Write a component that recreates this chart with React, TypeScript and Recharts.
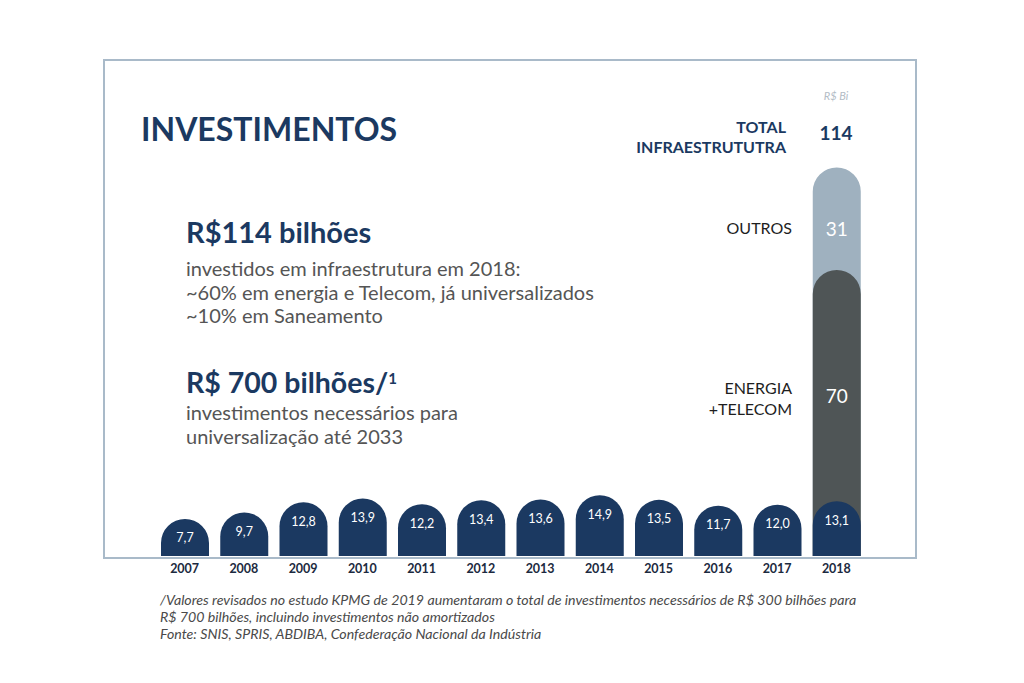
import React from "react";
import { BarChart, Bar, XAxis, YAxis, LabelList } from "recharts";

const years = ["2007", "2008", "2009", "2010", "2011", "2012", "2013", "2014", "2015", "2016", "2017", "2018"];
const saneamento = [7.7, 9.7, 12.8, 13.9, 12.2, 13.4, 13.6, 14.9, 13.5, 11.7, 12.0, 13.1];
const energiaTelecom = [null, null, null, null, null, null, null, null, null, null, null, 70];
const outros = [null, null, null, null, null, null, null, null, null, null, null, 31];
const totalInfra = 114;

const NAVY = "#1b3961";
const GRAY = "#4f5556";
const LIGHT = "#9fb1bf";
const BORDER = "#a9bac9";
const TEXT_GRAY = "#555555";
const PLOT_BOTTOM = 556;
const FONT = "Lato, 'Open Sans', sans-serif";

const data = years.map((year, i) => ({
  year,
  san: saneamento[i],
  ene: energiaTelecom[i],
  out: outros[i],
}));

const cumEnergia = (d: any) => (d.ene == null ? null : d.san + d.ene);
const cumTotal = (d: any) => (d.out == null ? null : d.san + d.ene + d.out);

const fmt = (v: number) => v.toFixed(1).replace(".", ",");

// rounded-top bar running down to the frame line
const RoundTop = (props: any) => {
  const { x, y, width, fill } = props;
  if (width == null || y == null) return null;
  const r = width / 2;
  const b = PLOT_BOTTOM;
  const d = `M${x},${b} L${x},${y + r} A${r},${r} 0 0 1 ${x + width},${y + r} L${x + width},${b} Z`;
  return <path d={d} fill={fill} />;
};

const sanLabel = (props: any) => {
  const { x, y, width, value } = props;
  if (value == null) return null;
  return (
    <text x={x + width / 2} y={y + 19} fill="#ffffff" fontSize={12.5} fontFamily={FONT} textAnchor="middle" dominantBaseline="central">
      {fmt(value)}
    </text>
  );
};

const segLabel = (key: string, cumFn: (d: any) => number | null) => (props: any) => {
  const { x, y, width, height, value } = props;
  if (value == null || height == null) return null;
  const row = data.find((d: any) => d[key] === value);
  const cum = row ? cumFn(row) : null;
  if (!cum) return null;
  const s = height / cum;
  const cy = y + (value * s) / 2 + 10;
  return (
    <text x={x + width / 2} y={cy} fill="#ffffff" fontSize={19} fontFamily={FONT} textAnchor="middle" dominantBaseline="central">
      {value}
    </text>
  );
};

const abs = (left: number, top: number, extra: React.CSSProperties = {}): React.CSSProperties => ({
  position: "absolute",
  left,
  top,
  fontFamily: FONT,
  whiteSpace: "nowrap",
  ...extra,
});

export default function App() {
  return (
    <div style={{ position: "absolute", left: 0, top: 0, width: 1024, height: 683, background: "#fff", overflow: "hidden" }}>
      <div
        style={{
          position: "absolute",
          left: 103,
          top: 59,
          width: 814,
          height: 500,
          border: `2px solid ${BORDER}`,
          boxSizing: "border-box",
        }}
      />
      <div style={{ position: "absolute", left: 0, top: 0 }}>
        <BarChart
          width={1024}
          height={683}
          data={data}
          margin={{ top: 148, right: 158, bottom: 97, left: 155 }}
          barSize={48}
          barGap={-48}
        >
          <XAxis
            dataKey="year"
            axisLine={false}
            tickLine={false}
            interval={0}
            tick={{ fill: "#1c2a40", fontSize: 12.5, fontWeight: 700, fontFamily: FONT }}
            height={30}
          />
          <YAxis hide domain={[-3.5, 120]} />
          <Bar dataKey={cumTotal} fill={LIGHT} shape={RoundTop} isAnimationActive={false}>
            <LabelList dataKey="out" content={segLabel("out", cumTotal)} />
          </Bar>
          <Bar dataKey={cumEnergia} fill={GRAY} shape={RoundTop} isAnimationActive={false}>
            <LabelList dataKey="ene" content={segLabel("ene", cumEnergia)} />
          </Bar>
          <Bar dataKey="san" fill={NAVY} shape={RoundTop} isAnimationActive={false}>
            <LabelList dataKey="san" content={sanLabel} />
          </Bar>
        </BarChart>
      </div>

      <div style={abs(141, 109, { fontSize: 32, fontWeight: 700, color: NAVY })}>INVESTIMENTOS</div>

      <div style={abs(806, 89, { width: 60, textAlign: "center", fontSize: 11, fontStyle: "italic", color: "#b3bcc6" })}>R$ Bi</div>
      <div style={abs(586, 117, { width: 200, textAlign: "right", fontSize: 16, fontWeight: 700, color: NAVY, lineHeight: "20px" })}>
        TOTAL
        <br />
        INFRAESTRUTUTRA
      </div>
      <div style={abs(796, 121, { width: 80, textAlign: "center", fontSize: 19, fontWeight: 700, color: NAVY })}>{totalInfra}</div>
      <div style={abs(592, 218, { width: 200, textAlign: "right", fontSize: 16, color: "#1e1e1e" })}>OUTROS</div>
      <div style={abs(592, 377, { width: 200, textAlign: "right", fontSize: 16, color: "#1e1e1e", lineHeight: "21px" })}>
        ENERGIA
        <br />
        +TELECOM
      </div>

      <div style={abs(186, 214, { fontSize: 29, fontWeight: 700, color: NAVY })}>R$114 bilhões</div>
      <div style={abs(186, 257, { fontSize: 20, color: TEXT_GRAY, lineHeight: "23.5px" })}>
        investidos em infraestrutura em 2018:
        <br />
        ~60% em energia e Telecom, já universalizados
        <br />
        ~10% em Saneamento
      </div>
      <div style={abs(186, 365, { fontSize: 28.5, fontWeight: 700, color: NAVY })}>
        R$ 700 bilhões/<sup style={{ fontSize: 15, verticalAlign: "0.6em", lineHeight: 0 }}>1</sup>
      </div>
      <div style={abs(186, 400, { fontSize: 20, color: TEXT_GRAY, lineHeight: "24px" })}>
        investimentos necessários para
        <br />
        universalização até 2033
      </div>

      <div style={abs(160, 591, { fontSize: 14.2, fontStyle: "italic", color: "#4a4a4a", lineHeight: "17px" })}>
        /Valores revisados no estudo KPMG de 2019 aumentaram o total de investimentos necessários de R$ 300 bilhões para
        <br />
        R$ 700 bilhões, incluindo investimentos não amortizados
        <br />
        Fonte: SNIS, SPRIS, ABDIBA, Confederação Nacional da Indústria
      </div>
    </div>
  );
}
